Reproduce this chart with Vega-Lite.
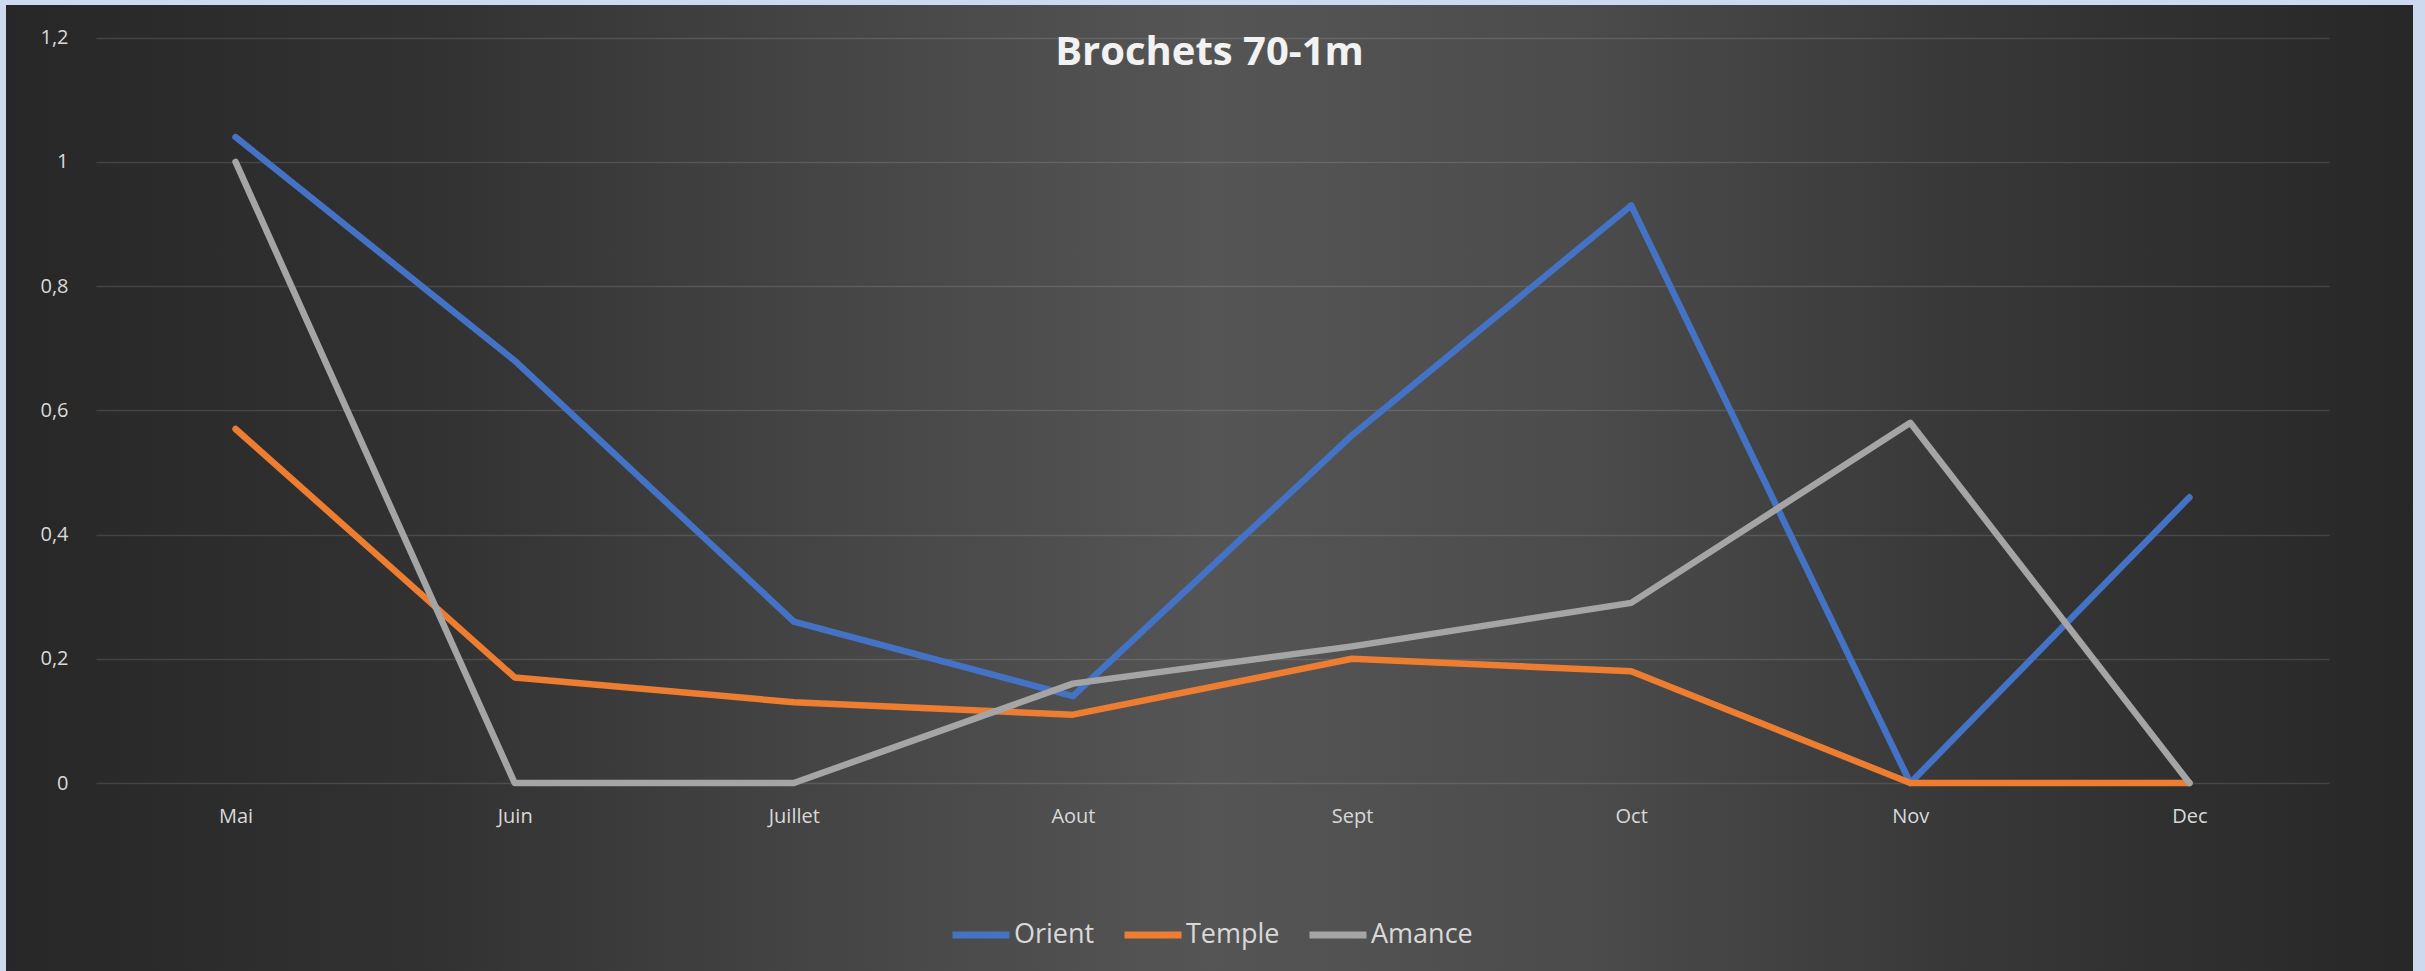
{
  "$schema": "https://vega.github.io/schema/vega-lite/v6.json",
  "autosize": {"type": "none"},
  "width": 2407,
  "height": 966,
  "padding": {"left": 6, "top": 5, "right": 12, "bottom": 0},
  "background": "#cdd9ee",
  "title": {
    "text": "Brochets 70-1m",
    "anchor": "middle",
    "frame": "group",
    "font": "Open Sans",
    "fontSize": 40,
    "fontWeight": "bold",
    "color": "#f2f2f2",
    "baseline": "alphabetic",
    "offset": -100
  },
  "config": {
    "view": {
      "stroke": null,
      "fill": {
        "gradient": "linear",
        "x1": 0, "y1": 0.5, "x2": 1, "y2": 0.5,
        "stops": [
          {"offset": 0, "color": "#272727"},
          {"offset": 0.18, "color": "#323232"},
          {"offset": 0.35, "color": "#464646"},
          {"offset": 0.5, "color": "#555555"},
          {"offset": 0.65, "color": "#4c4c4c"},
          {"offset": 0.82, "color": "#373737"},
          {"offset": 1, "color": "#272727"}
        ]
      }
    },
    "axis": {
      "labelFont": "Open Sans",
      "labelFontSize": 20,
      "labelColor": "#d9d9d9",
      "ticks": false,
      "tickSize": 0,
      "domain": false,
      "title": null
    },
    "legend": {
      "labelFont": "Open Sans",
      "labelFontSize": 27,
      "labelColor": "#d9d9d9"
    }
  },
  "data": {
    "values": [
      {"mois": "Mai", "serie": "Orient", "valeur": 1.04},
      {"mois": "Juin", "serie": "Orient", "valeur": 0.68},
      {"mois": "Juillet", "serie": "Orient", "valeur": 0.26},
      {"mois": "Aout", "serie": "Orient", "valeur": 0.14},
      {"mois": "Sept", "serie": "Orient", "valeur": 0.56},
      {"mois": "Oct", "serie": "Orient", "valeur": 0.93},
      {"mois": "Nov", "serie": "Orient", "valeur": 0},
      {"mois": "Dec", "serie": "Orient", "valeur": 0.46},
      {"mois": "Mai", "serie": "Temple", "valeur": 0.57},
      {"mois": "Juin", "serie": "Temple", "valeur": 0.17},
      {"mois": "Juillet", "serie": "Temple", "valeur": 0.13},
      {"mois": "Aout", "serie": "Temple", "valeur": 0.11},
      {"mois": "Sept", "serie": "Temple", "valeur": 0.2},
      {"mois": "Oct", "serie": "Temple", "valeur": 0.18},
      {"mois": "Nov", "serie": "Temple", "valeur": 0},
      {"mois": "Dec", "serie": "Temple", "valeur": 0},
      {"mois": "Mai", "serie": "Amance", "valeur": 1.0},
      {"mois": "Juin", "serie": "Amance", "valeur": 0},
      {"mois": "Juillet", "serie": "Amance", "valeur": 0},
      {"mois": "Aout", "serie": "Amance", "valeur": 0.16},
      {"mois": "Sept", "serie": "Amance", "valeur": 0.22},
      {"mois": "Oct", "serie": "Amance", "valeur": 0.29},
      {"mois": "Nov", "serie": "Amance", "valeur": 0.58},
      {"mois": "Dec", "serie": "Amance", "valeur": 0}
    ]
  },
  "mark": {"type": "line", "strokeWidth": 6.5, "strokeCap": "round", "strokeJoin": "round"},
  "encoding": {
    "x": {
      "field": "mois",
      "type": "ordinal",
      "sort": ["Mai", "Juin", "Juillet", "Aout", "Sept", "Oct", "Nov", "Dec"],
      "scale": {"type": "point", "padding": 0.5, "range": [90, 2323]},
      "axis": {"labelAngle": 0, "offset": -188, "labelPadding": 23, "grid": false}
    },
    "y": {
      "field": "valeur",
      "type": "quantitative",
      "scale": {"domain": [0, 1.2], "nice": false, "range": [778, 32.7]},
      "axis": {
        "values": [0, 0.2, 0.4, 0.6, 0.8, 1, 1.2],
        "labelExpr": "replace(format(datum.value, ''), '.', ',')",
        "offset": -66,
        "labelPadding": 4,
        "grid": true,
        "gridColor": "#ffffff",
        "gridOpacity": 0.12,
        "gridWidth": 1.3
      }
    },
    "color": {
      "field": "serie",
      "type": "nominal",
      "sort": ["Orient", "Temple", "Amance"],
      "scale": {"domain": ["Orient", "Temple", "Amance"], "range": ["#4472c4", "#ed7d31", "#a5a5a5"]},
      "legend": {
        "title": null,
        "orient": "none",
        "direction": "horizontal",
        "legendX": 943,
        "legendY": 898,
        "padding": 0,
        "symbolType": "stroke",
        "symbolSize": 3249,
        "symbolStrokeWidth": 7,
        "labelOffset": 1,
        "columnPadding": 15
      }
    }
  }
}
